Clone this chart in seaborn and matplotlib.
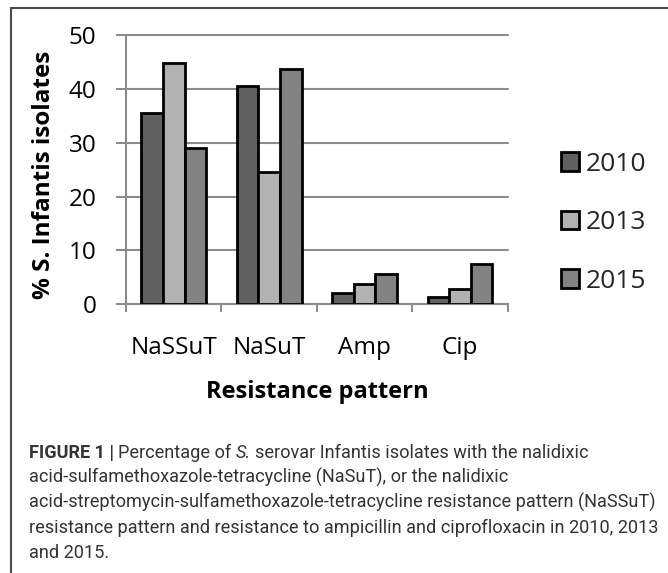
import matplotlib
matplotlib.use("Agg")
import matplotlib.pyplot as plt
import seaborn as sns
import pandas as pd
from matplotlib.patches import Patch
from matplotlib.lines import Line2D
from matplotlib.ticker import FixedLocator

# ---------------- data ----------------
patterns = ["NaSSuT", "NaSuT", "Amp", "Cip"]
years = ["2010", "2013", "2015"]
pct_2010 = [35.5, 40.5, 2.1, 1.4]
pct_2013 = [44.8, 24.6, 3.7, 2.9]
pct_2015 = [29.0, 43.7, 5.7, 7.4]
y_ticks = [0, 10, 20, 30, 40, 50]
bar_colors = ["#606060", "#b2b2b2", "#828282"]
x_title = "Resistance pattern"
y_title = "% S. Infantis isolates"

caption_lines = [
    [("FIGURE 1 |", "bold", "normal"), ("Percentage of", "normal", "normal"),
     ("S.", "normal", "italic"),
     ("serovar Infantis isolates with the nalidixic", "normal", "normal")],
    [("acid-sulfamethoxazole-tetracycline (NaSuT), or the nalidixic", "normal", "normal")],
    [("acid-streptomycin-sulfamethoxazole-tetracycline resistance pattern (NaSSuT)", "normal", "normal")],
    [("resistance pattern and resistance to ampicillin and ciprofloxacin in 2010, 2013", "normal", "normal")],
    [("and 2015.", "normal", "normal")],
]

# ---------------- style ----------------
sns.set_theme(style="white")
plt.rcParams["font.family"] = ["Open Sans", "DejaVu Sans"]

df = pd.DataFrame({
    "pattern": patterns * 3,
    "year": [y for y in years for _ in patterns],
    "pct": pct_2010 + pct_2013 + pct_2015,
})

W, H = 668, 573
fig = plt.figure(figsize=(W / 100, H / 100), dpi=100)
fig.patch.set_facecolor("white")

ax_left, ax_right, ax_top, ax_bottom = 126, 507.7, 35, 304.3
ax = fig.add_axes([ax_left / W, 1 - ax_bottom / H,
                   (ax_right - ax_left) / W, (ax_bottom - ax_top) / H])
ax.set_axisbelow(True)

sns.barplot(data=df, x="pattern", y="pct", hue="year", palette=bar_colors,
            width=0.68, edgecolor="black", linewidth=2.0, saturation=1,
            legend=False, ax=ax, zorder=3)

grid_gray = "#8c8c8c"
ax.set_ylim(0, 50)
ax.set_xlim(-0.5, len(patterns) - 0.5)
ax.set_yticks(y_ticks)
ax.yaxis.grid(True, color=grid_gray, linewidth=1.5)
ax.xaxis.grid(False)
for gl in ax.get_ygridlines():
    gl.set_clip_on(False)

for s in ["top", "right"]:
    ax.spines[s].set_visible(False)
for s in ["left", "bottom"]:
    ax.spines[s].set_color(grid_gray)
    ax.spines[s].set_linewidth(1.5)

ax.tick_params(axis="y", which="major", length=7.2, width=1.44, color=grid_gray,
               pad=14, labelsize=17.5, labelcolor="black", left=True)
ax.xaxis.set_minor_locator(FixedLocator([i - 0.5 for i in range(len(patterns) + 1)]))
ax.tick_params(axis="x", which="minor", length=5.8, width=1.44, color=grid_gray,
               bottom=True, direction="out")
ax.tick_params(axis="x", which="major", length=0, pad=23, labelsize=17.5,
               labelcolor="black")

ax.set_xlabel(x_title, fontsize=17, fontweight="bold", color="black")
ax.set_ylabel(y_title, fontsize=17.5, fontweight="bold", color="black")
ax.xaxis.set_label_coords(0.5, (ax_bottom - 392) / (ax_bottom - ax_top))
ax.xaxis.label.set_va("center")
ax.yaxis.set_label_coords((44 - ax_left) / (ax_right - ax_left),
                          (ax_bottom - 174.5) / (ax_bottom - ax_top))
ax.yaxis.label.set_va("center")
ax.yaxis.label.set_ha("center")

handles = [Patch(facecolor=c, edgecolor="black", linewidth=2.0) for c in bar_colors]
ax.legend(handles, years, loc="center left",
          bbox_to_anchor=(561 / W, 1 - 222.7 / H), bbox_transform=fig.transFigure,
          frameon=False, fontsize=19, borderpad=0, borderaxespad=0,
          handlelength=0.68, handleheight=0.68, handletextpad=0.25,
          labelspacing=1.27)

# ---------------- frame lines ----------------
frame_c = "#4a4a4a"
fig.add_artist(Line2D([11 / W, 11 / W], [0, 1 - 8 / H], color=frame_c, lw=1.5,
                      transform=fig.transFigure))
fig.add_artist(Line2D([11 / W, 1], [1 - 8 / H, 1 - 8 / H], color=frame_c, lw=1.5,
                      transform=fig.transFigure))

# ---------------- caption ----------------
cap_font = ["Roboto", "DejaVu Sans"]
cap_color = "#333333"
fig.canvas.draw()
r = fig.canvas.get_renderer()


def text_width(s, size, weight="normal", style="normal"):
    t = fig.text(0, 0, s, fontsize=size, fontweight=weight, fontstyle=style,
                 family=cap_font)
    w = t.get_window_extent(renderer=r).width
    t.remove()
    return w


base = 12
w3 = text_width(caption_lines[2][0][0], base)
cap_size = base * 622 / w3
space_w = text_width("a a", cap_size) - text_width("aa", cap_size)

x0 = 28.5
baselines = [458, 483, 508, 533, 558]
for segs, yb in zip(caption_lines, baselines):
    x = x0
    for i, (s, wgt, sty) in enumerate(segs):
        if i > 0:
            x += space_w
        t = fig.text(x / W, 1 - yb / H, s, fontsize=cap_size, fontweight=wgt,
                     fontstyle=sty, family=cap_font, color=cap_color,
                     ha="left", va="baseline")
        x += t.get_window_extent(renderer=r).width

fig.savefig("out.png", dpi=100, facecolor="white")
